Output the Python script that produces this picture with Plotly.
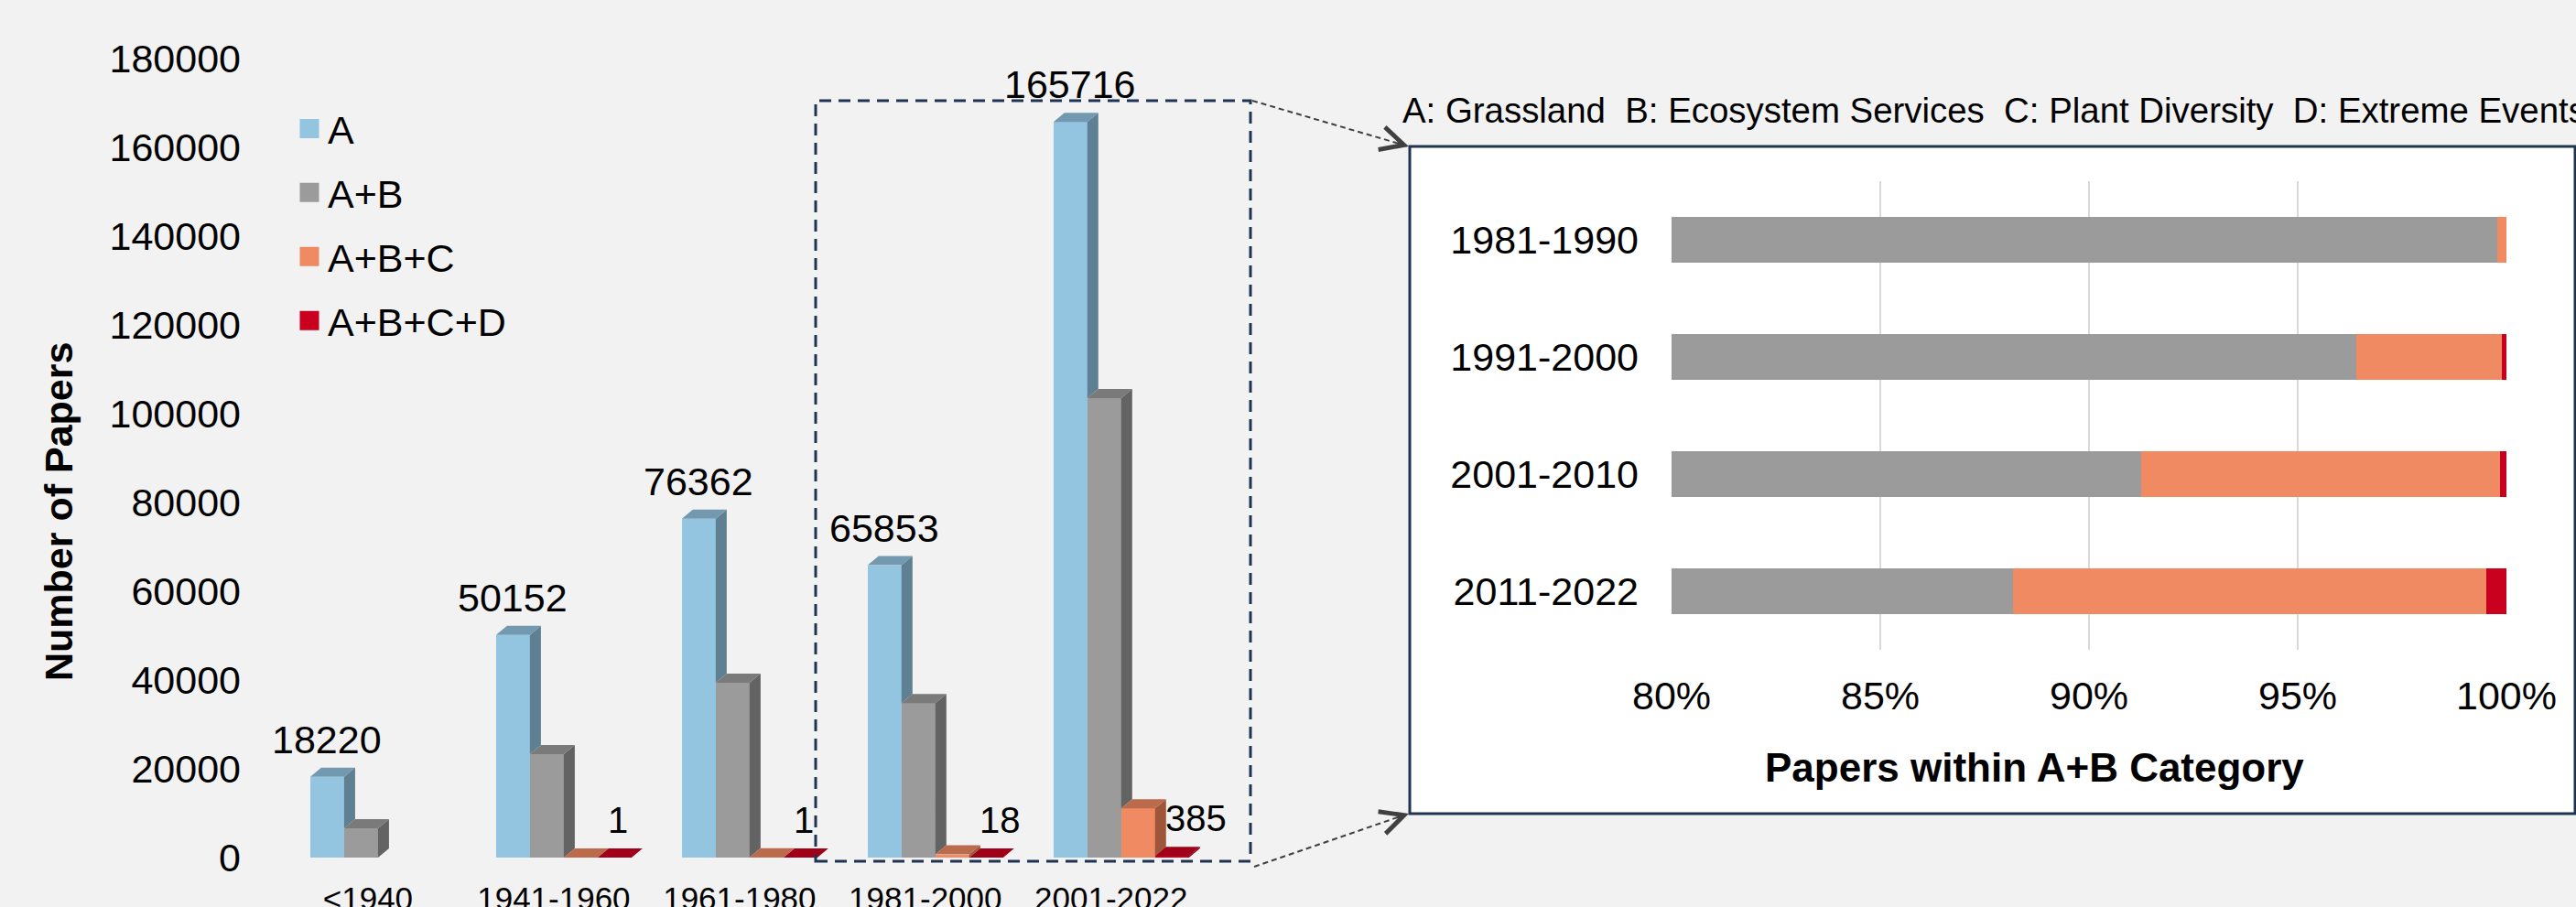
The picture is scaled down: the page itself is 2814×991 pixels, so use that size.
import plotly.graph_objects as go

W, H = 2814, 991
FONT = "Arial, 'Liberation Sans', Helvetica, sans-serif"

# ---------------- data ----------------
periods = ["<1940", "1941-1960", "1961-1980", "1981-2000", "2001-2022"]
series_names = ["A", "A+B", "A+B+C", "A+B+C+D"]
papers_a = [18220, 50152, 76362, 65853, 165716]
papers_ab = [6600, 23300, 39400, 34800, 103500]
papers_abc = [None, 25, 60, 700, 11100]
papers_abcd = [None, 1, 1, 18, 385]
count_ticks = [0, 20000, 40000, 60000, 80000, 100000, 120000, 140000, 160000, 180000]

decades = ["1981-1990", "1991-2000", "2001-2010", "2011-2022"]
share_ab_only = [99.78, 96.40, 91.26, 88.17]
share_abc = [0.22, 3.50, 8.58, 11.35]
share_abcd = [0.00, 0.10, 0.16, 0.48]
pct_ticks = [80, 85, 90, 95, 100]
pct_labels = ["80%", "85%", "90%", "95%", "100%"]

definitions = ("A: Grassland \u00a0B: Ecosystem Services \u00a0C: Plant Diversity "
               "\u00a0D: Extreme Events")

# ---------------- style ----------------
front = ["#93c4e0", "#9b9b9b", "#ef8a62", "#c9001e"]
top_c = ["#7399b0", "#7a7a7a", "#bb6b4c", "#a00018"]
side_c = ["#5f7f92", "#636363", "#9d5639", "#7a0012"]
NAVY = "#1f3352"
BG = "#f2f2f2"


def fx(p):
    return p / W


def fy(p):
    return 1 - p / H


X0_PX, X1_PX = 270, 1366
XR = [-0.65, 4.75]
Y0_PX, Y1_PX = 937, 64
YMAX = 180000
CAT_PX = (X1_PX - X0_PX) / (XR[1] - XR[0])
PX_PER_UNIT_Y = (Y0_PX - Y1_PX) / YMAX
BW = 37 / CAT_PX
GROUP_LEFT = -63 / CAT_PX
DX = 12 / CAT_PX
DY = 10 / PX_PER_UNIT_Y

series_vals = [papers_a, papers_ab, papers_abc, papers_abcd]

fig = go.Figure()

# front faces of the 3D columns
for j, vals in enumerate(series_vals):
    xs = [i + GROUP_LEFT + BW * (j + 0.5) for i in range(len(periods))]
    fig.add_trace(go.Bar(x=xs, y=vals, width=BW, marker_color=front[j],
                         marker_line_width=0, xaxis="x", yaxis="y",
                         showlegend=False, hoverinfo="skip"))

# side and top faces
for j, vals in enumerate(series_vals):
    sx, sy, tx, ty = [], [], [], []
    for i, v in enumerate(vals):
        if v is None:
            continue
        xl = i + GROUP_LEFT + BW * j
        xr = xl + BW
        nxt = series_vals[j + 1][i] if j + 1 < len(series_vals) else None
        b = min(nxt or 0, v)
        sx += [xr, xr + DX, xr + DX, xr, None]
        sy += [b, b + DY, v + DY, v, None]
        tx += [xl, xl + DX, xr + DX, xr, None]
        ty += [v, v + DY, v + DY, v, None]
    for px_, py_, c in ((sx, sy, side_c[j]), (tx, ty, top_c[j])):
        fig.add_trace(go.Scatter(x=px_, y=py_, mode="lines", fill="toself",
                                 fillcolor=c, line=dict(width=0, color=c),
                                 xaxis="x", yaxis="y", showlegend=False,
                                 hoverinfo="skip"))

# legend entries
for j, name in enumerate(series_names):
    fig.add_trace(go.Scatter(x=[None], y=[None], mode="markers", name=name,
                             legendgroup=name, xaxis="x", yaxis="y",
                             marker=dict(symbol="square", size=16, color=front[j],
                                         line=dict(color=front[j], width=5))))

# right panel: stacked horizontal bars
for vals, c in zip([share_ab_only, share_abc, share_abcd], front[1:]):
    fig.add_trace(go.Bar(y=decades, x=vals, orientation="h", width=0.39,
                         marker_color=c, marker_line_width=0,
                         xaxis="x2", yaxis="y2", showlegend=False,
                         hoverinfo="skip"))

annotations = []
for i, v in enumerate(papers_a):
    annotations.append(dict(x=i + GROUP_LEFT + BW * 0.5, y=v, xref="x", yref="y",
                            text=str(v), showarrow=False, xanchor="center",
                            yanchor="bottom", yshift=15, font=dict(size=43)))
for i, v in enumerate(papers_abcd):
    if v is None:
        continue
    annotations.append(dict(x=i + GROUP_LEFT + BW * 3, y=v, xref="x", yref="y",
                            text=str(v), showarrow=False, xanchor="left",
                            yanchor="bottom", xshift=9, yshift=17,
                            font=dict(size=40)))

annotations += [
    dict(text="<b>Number of Papers</b>", x=fx(64), y=fy(559), xref="paper",
         yref="paper", xanchor="center", yanchor="middle", textangle=-90,
         showarrow=False, font=dict(size=43)),
    dict(text="<b>Papers within A+B Category</b>", x=fx(2222), y=fy(838),
         xref="paper", yref="paper", xanchor="center", yanchor="middle",
         showarrow=False, font=dict(size=44)),
    dict(text=definitions, x=fx(1530), y=fy(120), xref="paper", yref="paper",
         xanchor="left", yanchor="middle", showarrow=False, font=dict(size=38.4)),
    dict(x=fx(1539), y=fy(160), xref="paper", yref="paper", ax=-11.5, ay=-3.4,
         text="", showarrow=True, arrowhead=5, arrowsize=2.5, arrowwidth=2,
         arrowcolor="#404040"),
    dict(x=fx(1539), y=fy(889), xref="paper", yref="paper", ax=-11.4, ay=3.8,
         text="", showarrow=True, arrowhead=5, arrowsize=2.5, arrowwidth=2,
         arrowcolor="#404040"),
]

shapes = [
    dict(type="rect", xref="paper", yref="paper", x0=fx(1540), x1=fx(2813),
         y0=fy(889), y1=fy(160), fillcolor="white",
         line=dict(color=NAVY, width=3), layer="below"),
    dict(type="rect", xref="paper", yref="paper", x0=fx(891), x1=fx(1366),
         y0=fy(941), y1=fy(110), fillcolor="rgba(0,0,0,0)",
         line=dict(color=NAVY, width=3, dash="13px,8px"), layer="above"),
    dict(type="line", xref="paper", yref="paper", x0=fx(1368), y0=fy(110),
         x1=fx(1537), y1=fy(159.5), line=dict(color="#404040", width=2, dash="6px,4px")),
    dict(type="line", xref="paper", yref="paper", x0=fx(1370), y0=fy(947),
         x1=fx(1537), y1=fy(889.5), line=dict(color="#404040", width=2, dash="6px,4px")),
]

fig.update_layout(
    width=W, height=H, margin=dict(l=0, r=0, t=0, b=0, pad=0, autoexpand=False),
    paper_bgcolor=BG, plot_bgcolor="rgba(0,0,0,0)",
    barmode="stack", font=dict(family=FONT, color="#000000", size=40),
    xaxis=dict(domain=[fx(X0_PX), fx(X1_PX)], range=XR, tickvals=list(range(len(periods))),
               ticktext=periods, showgrid=False, zeroline=False, showline=False,
               ticks="", tickfont=dict(size=35), ticklabelstandoff=21, anchor="y",
               automargin=False),
    yaxis=dict(domain=[fy(Y0_PX), fy(Y1_PX)], range=[0, YMAX], tickvals=count_ticks,
               tickformat="d", showgrid=False, zeroline=False, showline=False,
               ticks="", tickfont=dict(size=43), ticklabelstandoff=6, anchor="x",
               automargin=False),
    xaxis2=dict(domain=[fx(1826), fx(2738)], range=[80, 100], tickvals=pct_ticks,
                ticktext=pct_labels, showgrid=True, gridcolor="#d9d9d9", gridwidth=2,
                zeroline=False, showline=False, ticks="", tickfont=dict(size=43),
                ticklabelstandoff=21, anchor="y2", automargin=False),
    yaxis2=dict(domain=[fy(710), fy(198)], type="category", categoryorder="array",
                categoryarray=decades, autorange="reversed", showgrid=False,
                zeroline=False, showline=False, ticks="", tickfont=dict(size=43),
                ticklabelstandoff=35, anchor="x2", automargin=False),
    legend=dict(x=fx(318), y=fy(106), xanchor="left", yanchor="top",
                font=dict(size=43), bgcolor="rgba(0,0,0,0)", traceorder="grouped",
                tracegroupgap=11, itemclick=False),
    annotations=annotations, shapes=shapes, showlegend=True,
)

fig.write_html(
    "out.html",
    config={"displayModeBar": False},
    post_script=("document.body.style.margin='0';"
                 "document.body.style.background='%s';"
                 "document.documentElement.style.overflow='hidden';" % BG),
)
